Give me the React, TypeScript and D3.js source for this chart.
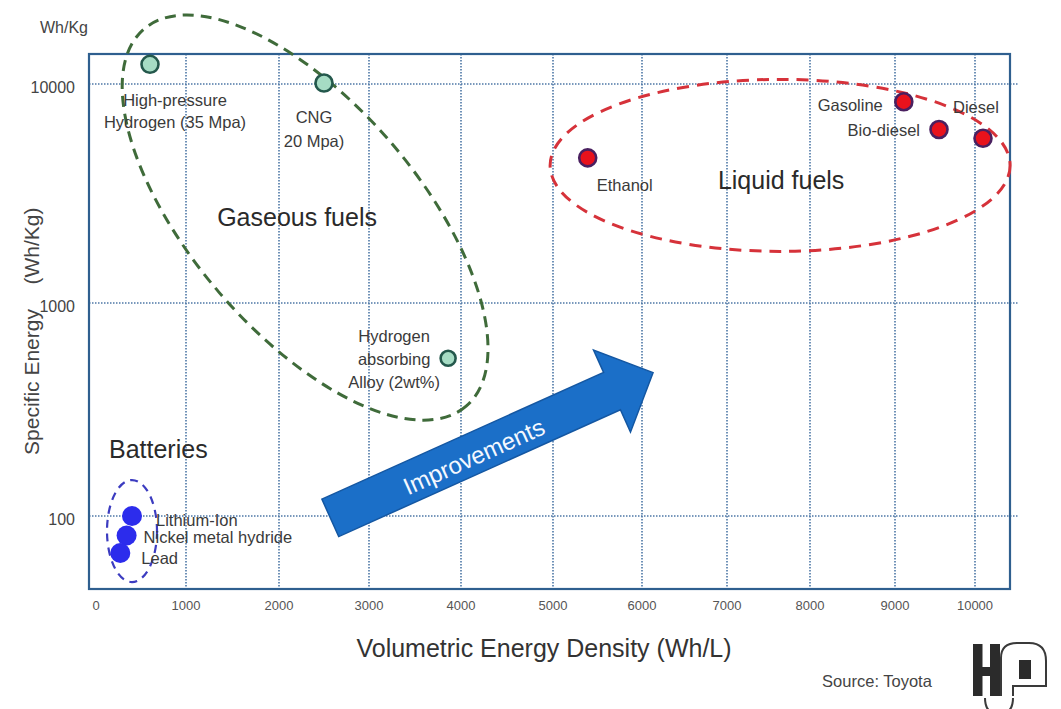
import React from "react";
import * as d3 from "d3";

// ---------- data ----------
const xTickValues = [0, 1000, 2000, 3000, 4000, 5000, 6000, 7000, 8000, 9000, 10000];
const yTickValues = [100, 1000, 10000];

const gasLabels = [["High-pressure", "Hydrogen (35 Mpa)"], ["CNG", "20 Mpa)"], ["Hydrogen", "absorbing", "Alloy (2wt%)"]];
const gasX = [600, 2500, 3860];
const gasY = [12300, 10100, 550];

const liquidLabels = [["Ethanol"], ["Gasoline"], ["Bio-diesel"], ["Diesel"]];
const liquidX = [5390, 9110, 9550, 10100];
const liquidY = [4600, 8300, 6200, 5650];

const batteryLabels = [["Lithium-Ion"], ["Nickel metal hydride"], ["Lead"]];
const batteryX = [400, 340, 270];
const batteryY = [100, 81, 67];

const groupNames = ["Gaseous fuels", "Liquid fuels", "Batteries"];
const groupCenterX = [2290, 7640, 400];
const groupCenterY = [2455, 4250, 85];

const arrowFrom = [2570, 98];
const arrowTo = [6130, 471];
const arrowText = "Improvements";

// ---------- layout ----------
const W = 1061, H = 709;
const FRAME = { left: 89, right: 1010, top: 54, bottom: 589 };
const X_STOPS = [96, 186, 279, 369, 461, 553, 642, 727, 810, 895, 975];
const Y_STOPS = [516, 303, 84];
const FONT = "'Liberation Sans', Arial, Helvetica, sans-serif";

const xScale = d3.scaleLinear().domain(xTickValues).range(X_STOPS);
const yScale = d3.scaleLog().domain(yTickValues).range(Y_STOPS);

// label offsets [dx, anchor, baselines...]
const gasLabelPos: [number, string, number[]][] = [
  [25, "middle", [42, 64]],
  [-10, "middle", [40, 64]],
  [-54, "middle", [-16, 7, 30]],
];
const liquidLabelPos: [number, string, number[]][] = [
  [9, "start", [33]],
  [-21, "end", [9]],
  [-19, "end", [7]],
  [-30, "start", [-25]],
];
const batteryLabelPos: [number, string, number[]][] = [
  [24, "start", [10]],
  [17, "start", [8]],
  [21, "start", [11]],
];

const ellipses = [
  { rx: 248, ry: 114, rot: 49.5, stroke: "#3f6b3a", dash: "11 7", width: 3 },
  { rx: 230, ry: 86, rot: 0, stroke: "#d6323a", dash: "12 8", width: 3 },
  { rx: 25, ry: 51, rot: 0, stroke: "#3c3cc0", dash: "8 6", width: 2.2 },
];
const groupLabelPos: [number, number, string][] = [
  [-8, 8, "middle"],
  [1, 24, "middle"],
  [-23, 373, "start"],
];

const labelColor = "#3a3a3a";

function PointLabels({ xs, ys, labels, pos }: any) {
  return (
    <g>
      {labels.map((lines: string[], i: number) => {
        const px = xScale(xs[i]);
        const py = yScale(ys[i]);
        const [dx, anchor, bls] = pos[i];
        return lines.map((t, j) => (
          <text key={i + "-" + j} x={px + dx} y={py + bls[j]} textAnchor={anchor}
            fontSize={16.5} fill={labelColor} fontFamily={FONT}>{t}</text>
        ));
      })}
    </g>
  );
}

export default function App() {
  const ax0 = xScale(arrowFrom[0]), ay0 = yScale(arrowFrom[1]);
  const ax1 = xScale(arrowTo[0]), ay1 = yScale(arrowTo[1]);
  const ang = (Math.atan2(ay1 - ay0, ax1 - ax0) * 180) / Math.PI;
  const len = Math.hypot(ax1 - ax0, ay1 - ay0);
  const bodyHalf = 20.5, headHalf = 45, headLen = 45;
  const arrowPts = [
    [0, -bodyHalf], [len - headLen, -bodyHalf], [len - headLen, -headHalf], [len, 0],
    [len - headLen, headHalf], [len - headLen, bodyHalf], [0, bodyHalf],
  ].map((p) => p.join(",")).join(" ");

  return (
    <svg width={W} height={H} style={{ position: "absolute", left: 0, top: 0, background: "#fff" }}>
      <rect x={0} y={0} width={W} height={H} fill="#fff" />

      {/* gridlines */}
      {xTickValues.filter((v) => v > 0).map((v) => (
        <line key={"gx" + v} x1={xScale(v)} x2={xScale(v)} y1={FRAME.top} y2={FRAME.bottom}
          stroke="#4d77a6" strokeWidth={1.6} strokeDasharray="1.5 1.5" />
      ))}
      {yTickValues.map((v) => (
        <line key={"gy" + v} x1={FRAME.left} x2={FRAME.right + 8} y1={yScale(v)} y2={yScale(v)}
          stroke="#4d77a6" strokeWidth={1.6} strokeDasharray="1.5 1.5" />
      ))}

      {/* frame */}
      <rect x={FRAME.left} y={FRAME.top} width={FRAME.right - FRAME.left} height={FRAME.bottom - FRAME.top}
        fill="none" stroke="#2f5f8f" strokeWidth={2.2} />

      {/* tick labels */}
      {xTickValues.map((v) => (
        <text key={"xt" + v} x={xScale(v)} y={610} textAnchor="middle" fontSize={13}
          fill="#555" fontFamily={FONT}>{v}</text>
      ))}
      {yTickValues.map((v) => (
        <text key={"yt" + v} x={75} y={yScale(v) + 9} textAnchor="end" fontSize={16}
          fill="#444" fontFamily={FONT}>{v}</text>
      ))}

      {/* axis titles */}
      <text x={40} y={33} fontSize={16} fill="#444" fontFamily={FONT}>Wh/Kg</text>
      <text transform="translate(39,382) rotate(-90)" textAnchor="middle" fontSize={21}
        fill="#444" fontFamily={FONT}>Specific Energy</text>
      <text transform="translate(39,246) rotate(-90)" textAnchor="middle" fontSize={21}
        fill="#444" fontFamily={FONT}>(Wh/Kg)</text>
      <text x={544} y={657} textAnchor="middle" fontSize={25} fill="#333" fontFamily={FONT}>
        Volumetric Energy Density (Wh/L)
      </text>
      <text x={877} y={687} textAnchor="middle" fontSize={16.5} fill="#444" fontFamily={FONT}>Source: Toyota</text>

      {/* group ellipses */}
      {ellipses.map((e, i) => {
        const cx = xScale(groupCenterX[i]);
        const cy = yScale(groupCenterY[i]);
        return (
          <ellipse key={"el" + i} cx={0} cy={0} rx={e.rx} ry={e.ry}
            transform={`translate(${cx},${cy}) rotate(${e.rot})`}
            fill="none" stroke={e.stroke} strokeWidth={e.width} strokeDasharray={e.dash} />
        );
      })}
      {groupNames.map((n, i) => {
        const [dx, dy, anchor] = groupLabelPos[i];
        const cx = xScale(groupCenterX[i]) + dx;
        const cy = (i === 2 ? 85 : yScale(groupCenterY[i])) + dy;
        return (
          <text key={"gn" + i} x={cx} y={cy} textAnchor={anchor} fontSize={25}
            fill="#2a2a2a" fontFamily={FONT}>{n}</text>
        );
      })}

      {/* arrow */}
      <g transform={`translate(${ax0},${ay0}) rotate(${ang})`}>
        <polygon points={arrowPts} fill="#1b6fc8" stroke="#1457a2" strokeWidth={1.5} />
        <text x={156} y={3} textAnchor="middle" dominantBaseline="central" fontSize={24}
          fill="#f4f8ff" fontFamily={FONT}>{arrowText}</text>
      </g>

      {/* points */}
      {gasX.map((x, i) => (
        <circle key={"gp" + i} cx={xScale(x)} cy={yScale(gasY[i])} r={i === 2 ? 7.5 : 8.5}
          fill="#a6dcc4" stroke="#24584c" strokeWidth={2.6} />
      ))}
      {liquidX.map((x, i) => (
        <circle key={"lp" + i} cx={xScale(x)} cy={yScale(liquidY[i])} r={8.5}
          fill="#e8121c" stroke="#4a2060" strokeWidth={2.6} />
      ))}
      {batteryX.map((x, i) => (
        <circle key={"bp" + i} cx={xScale(x)} cy={yScale(batteryY[i])} r={10}
          fill="#2c2cec" />
      ))}

      <PointLabels xs={gasX} ys={gasY} labels={gasLabels} pos={gasLabelPos} />
      <PointLabels xs={liquidX} ys={liquidY} labels={liquidLabels} pos={liquidLabelPos} />
      <PointLabels xs={batteryX} ys={batteryY} labels={batteryLabels} pos={batteryLabelPos} />

      {/* logo */}
      <g>
        <rect x={973} y={644} width={9.5} height={52} fill="#2b2b2b" />
        <rect x={990} y={644} width={10} height={52} fill="#2b2b2b" />
        <rect x={982} y={667} width={8} height={9} fill="#2b2b2b" />
        <path d="M1001,696 L1001,658 Q1001,643 1017,643 L1029,643 Q1046,643 1046,661 L1046,686 L1013,686 L1013,696"
          fill="none" stroke="#3a3a3a" strokeWidth={2} />
        <rect x={1019} y={660} width={12} height={19} fill="#2b2b2b" />
        <path d="M985,698 Q985,714 999,714 Q1013,714 1013,698" fill="none" stroke="#3a3a3a" strokeWidth={2} />
      </g>
    </svg>
  );
}
